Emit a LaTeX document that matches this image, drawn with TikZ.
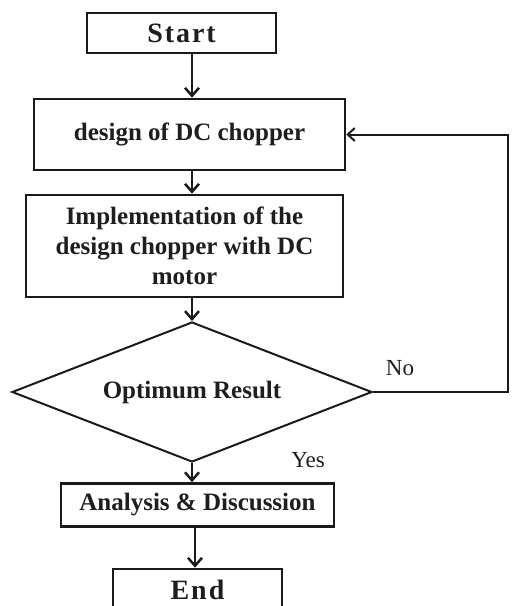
\documentclass[tikz,border=0pt]{standalone}
\usepackage{fontspec}
\setmainfont{Liberation Serif}
\usetikzlibrary{positioning,shapes.geometric,arrows.meta}
\definecolor{boxline}{HTML}{1A1A1A}
\definecolor{txtdark}{HTML}{1E1E1E}
\tikzset{
  stepbox/.style={draw=boxline, line width=2.6pt, text=txtdark, align=center,
                  minimum width=#1, inner sep=0pt,
                  font=\fontsize{25}{30}\selectfont\bfseries},
  stepbox/.default=300pt,
  term/.style={font=\fontsize{28}{32}\selectfont\bfseries\addfontfeatures{LetterSpace=7}},
  decide/.style={diamond, aspect=2.57, draw=boxline, line width=2pt, text=txtdark, inner sep=0pt,
                 font=\fontsize{25}{30}\selectfont\bfseries},
  lbl/.style={text=txtdark, font=\fontsize{23}{26}\selectfont},
  flow/.style={draw=boxline, line width=2.5pt, -{Straight Barb[length=8pt,width=14pt]}},
  back/.style={draw=boxline, line width=2pt, -{Straight Barb[length=7pt,width=13pt]}},
}
\begin{document}
\begin{tikzpicture}[x=1pt,y=-1pt]
  \useasboundingbox (0,0) rectangle (512,606);
  \clip (0,0) rectangle (512,606);
  % steps
  \node[stepbox=189pt, term, minimum height=40pt] (start) at (181.5,33) {Start};
  \node[stepbox=311pt, minimum height=71pt] (design) at (189.5,134.5) {design of DC chopper};
  \node[stepbox=317pt, minimum height=102pt] (impl) at (184.5,246)
    {Implementation of the\\ design chopper with DC\\ motor};
  \node[decide, minimum width=360pt, minimum height=140pt] (dia) at (192,392) {Optimum Result};
  \node[stepbox=273pt, minimum height=43pt] (ana) at (197.5,505) {Analysis \& Discussion};
  \node[stepbox=169pt, term, minimum height=42pt] (endb) at (197.5,590) {End};
  % labels
  \node[lbl] (no) at (400,368) {No};
  \node[lbl] (yes) at (308,460) {Yes};
  % connectors
  \draw[flow] (start.south -| dia.north) -- (design.north -| dia.north);
  \draw[flow] (design.south -| dia.north) -- (impl.north -| dia.north);
  \draw[flow] (impl.south -| dia.north) -- (dia.north);
  \draw[flow] (dia.south) -- (dia.south |- ana.north);
  \draw[flow] (ana.south -| 195,0) -- (endb.north -| 195,0);
  \coordinate (loop) at (508,134.5);
  \draw[back] (dia.east) -| (loop) -- (design.east);
\end{tikzpicture}
\end{document}
